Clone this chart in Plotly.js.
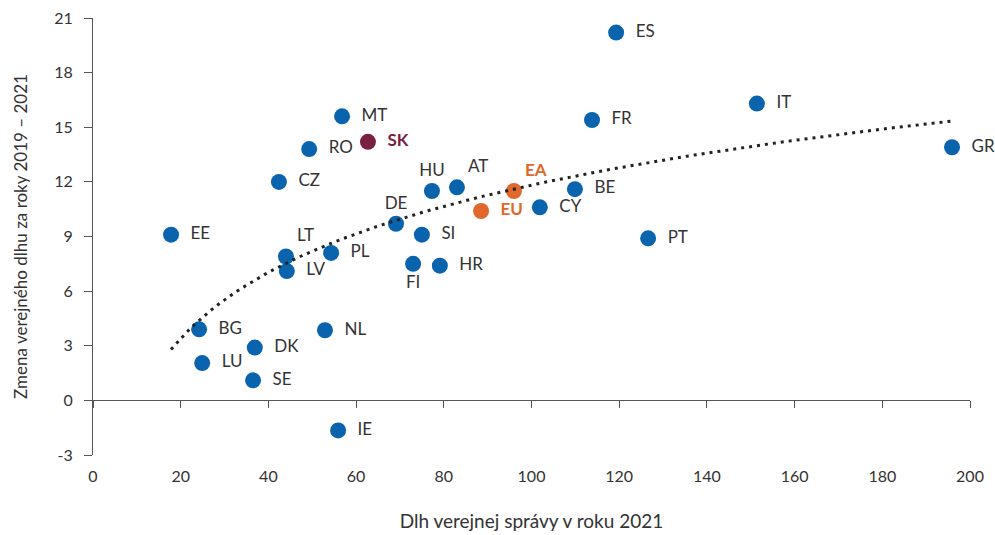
<!DOCTYPE html>
<html>
<head>
<meta charset="utf-8">
<script src="https://cdn.plot.ly/plotly-3.0.1.min.js"></script>
<style>html,body{margin:0;padding:0;background:#fff;}#chart{width:995px;height:535px;}</style>
</head>
<body>
<div id="chart"></div>
<script>
// ---- data ----
const countries = ["EE","BG","LU","SE","DK","CZ","LT","LV","RO","NL","PL","IE","MT","DE","FI","SI","HU","HR","AT","CY","BE","FR","ES","PT","IT","GR"];
const debt2021  = [17.8,24.2,24.9,36.5,36.9,42.4,44.0,44.2,49.3,52.9,54.3,55.9,56.8,69.1,73.0,75.0,77.3,79.1,83.0,101.9,109.9,113.8,119.3,126.6,151.4,195.9];
const debtChange = [9.1,3.9,2.05,1.1,2.9,12.0,7.9,7.1,13.8,3.85,8.1,-1.65,15.6,9.7,7.5,9.1,11.5,7.4,11.7,10.6,11.6,15.4,20.2,8.9,16.3,13.9];

const skLabel = ["SK"];
const skDebt = [62.7];
const skChange = [14.2];

const aggLabels = ["EU","EA"];
const aggDebt = [88.5,96.0];
const aggChange = [10.4,11.5];

const xTicks = [0,20,40,60,80,100,120,140,160,180,200];
const yTicks = [-3,0,3,6,9,12,15,18,21];
const yTickText = ["-3","0","3","6","9","12","15","18","21"];

// ---- styling ----
const labelPos = {LT:"top right", DE:"top center", FI:"bottom center", HU:"top center", AT:"top right", EA:"top right"};
const posFor = arr => arr.map(c => labelPos[c] || "middle right");
const padLabel = (arr, bold) => arr.map(c => {
  const p = labelPos[c] || "middle right";
  const t = bold ? "<b>" + c + "</b>" : c;
  return p === "middle right" ? "\u2002" + t : t;
});
const FONT = "Lato, 'Open Sans', sans-serif";
const BLUE = "#0a63ad", MAROON = "#7a2043", ORANGE = "#e0682a", TXT = "#333333";

// logarithmic trendline fitted to the country points (EU member states incl. SK)
const allX = debt2021.concat(skDebt), allY = debtChange.concat(skChange);
const lnX = allX.map(Math.log);
const n = lnX.length;
const mL = lnX.reduce((a,b)=>a+b,0)/n, mY = allY.reduce((a,b)=>a+b,0)/n;
let sxy=0, sxx=0;
for (let i=0;i<n;i++){ sxy+=(lnX[i]-mL)*(allY[i]-mY); sxx+=(lnX[i]-mL)**2; }
const slope = sxy/sxx, icpt = mY - slope*mL;
const xMin = Math.min(...allX), xMax = Math.max(...allX);
const trendX = [], trendY = [];
for (let k=0;k<=100;k++){ const xv = xMin + (xMax-xMin)*k/100; trendX.push(xv); trendY.push(slope*Math.log(xv)+icpt); }

const traces = [
  {x: trendX, y: trendY, xaxis:"x2", yaxis:"y", mode:"lines", line:{color:"#222", width:3, dash:"3px,5px"}, hoverinfo:"skip", showlegend:false},
  {x: debt2021, y: debtChange, text: padLabel(countries,false), mode:"markers+text", textposition: posFor(countries),
   marker:{size:16, color:BLUE}, textfont:{family:FONT, size:17, color:TXT}, cliponaxis:false, showlegend:false, hoverinfo:"skip"},
  {x: skDebt, y: skChange, text: padLabel(skLabel,true), mode:"markers+text", textposition: posFor(skLabel),
   marker:{size:16, color:MAROON}, textfont:{family:FONT, size:17, color:MAROON}, cliponaxis:false, showlegend:false, hoverinfo:"skip"},
  {x: aggDebt, y: aggChange, text: padLabel(aggLabels,true), mode:"markers+text", textposition: posFor(aggLabels),
   marker:{size:16, color:ORANGE}, textfont:{family:FONT, size:17, color:ORANGE}, cliponaxis:false, showlegend:false, hoverinfo:"skip"}
];

const layout = {
  width: 995, height: 535,
  margin: {l:93, r:25, t:18, b:80},
  paper_bgcolor:"#fff", plot_bgcolor:"#fff",
  font: {family: FONT, size: 16, color: TXT},
  showlegend: false,
  xaxis: {range:[0,200], tickvals:xTicks, ticktext:xTicks.map(String), showgrid:false, zeroline:false, showline:false,
          ticks:"outside", ticklen:7, tickcolor:"rgba(0,0,0,0)", tickfont:{size:16, color:TXT},
          title:{text:"Dlh verejnej správy v roku 2021", font:{size:19, color:TXT}, standoff:30}, fixedrange:true},
  xaxis2: {range:[0,200], overlaying:"x", anchor:"free", position:0.125, side:"bottom", tickvals:xTicks,
           showticklabels:false, showgrid:false, zeroline:false, showline:true, linecolor:"#555", linewidth:1,
           ticks:"outside", ticklen:7, tickcolor:"#555", fixedrange:true},
  yaxis: {range:[-3,21], tickvals:yTicks, ticktext:yTickText, showgrid:false, zeroline:false, showline:true,
          linecolor:"#555", linewidth:1, ticks:"outside", ticklen:8, tickcolor:"#555", tickfont:{size:16, color:TXT},
          ticklabelstandoff:8,
          title:{text:"Zmena verejného dlhu za roky 2019 – 2021", font:{size:17, color:TXT}, standoff:22}, fixedrange:true}
};

Plotly.newPlot("chart", traces, layout, {displayModeBar:false, staticPlot:true});
</script>
</body>
</html>
